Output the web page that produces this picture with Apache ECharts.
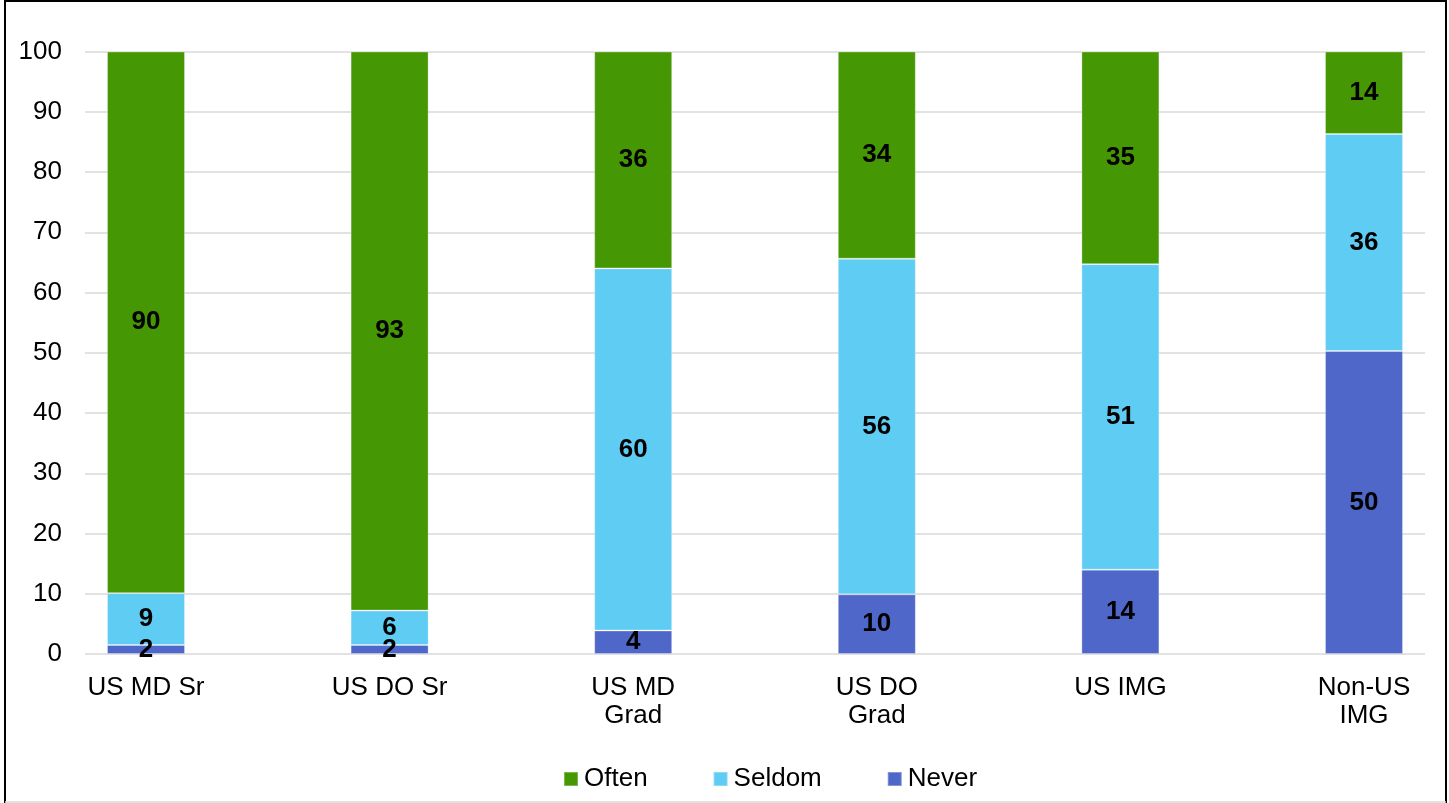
<!DOCTYPE html>
<html>
<head>
<meta charset="utf-8">
<script src="https://cdn.jsdelivr.net/npm/echarts@6/dist/echarts.min.js"></script>
<style>
html,body{margin:0;padding:0;background:#fff;}
#main{width:1449px;height:803px;}
</style>
</head>
<body>
<div id="main"></div>
<script>
const categories = ['US MD Sr', 'US DO Sr', 'US MD\nGrad', 'US DO\nGrad', 'US IMG', 'Non-US\nIMG'];
const never = [1.5, 1.5, 3.9, 9.9, 14.0, 50.3];
const seldom = [8.6, 5.7, 60.1, 55.7, 50.7, 36.0];
const often = [89.9, 92.8, 36.0, 34.4, 35.3, 13.7];
const yTicks = [0, 10, 20, 30, 40, 50, 60, 70, 80, 90, 100];

const FONT = 'Liberation Sans, Arial, sans-serif';
const chart = echarts.init(document.getElementById('main'), null, {renderer: 'canvas'});

const labelCfg = {
  show: true,
  position: 'inside',
  color: '#000',
  fontFamily: FONT,
  fontWeight: 'bold',
  fontSize: 26,
  formatter: p => Math.round(p.value)
};

function mkSeries(name, data, color) {
  return {
    name: name,
    type: 'bar',
    stack: 'total',
    xAxisIndex: 1,
    yAxisIndex: 1,
    barWidth: 78,
    data: data,
    itemStyle: {color: color, borderColor: 'rgba(255,255,255,0.3)', borderWidth: 1},
    label: labelCfg
  };
}

chart.setOption({
  animation: false,
  backgroundColor: '#fff',
  textStyle: {fontFamily: FONT},
  grid: [
    {left: 85, right: 24, top: 51.5, bottom: 149},
    {left: 146, right: 85, top: 51.5, bottom: 149}
  ],
  xAxis: [
    {gridIndex: 0, type: 'category', data: categories, show: false},
    {
      gridIndex: 1, type: 'category', data: categories, boundaryGap: false,
      axisLine: {show: false}, axisTick: {show: false},
      axisLabel: {color: '#000', fontSize: 26, fontFamily: FONT, margin: 20, lineHeight: 28, interval: 0}
    }
  ],
  yAxis: [
    {
      gridIndex: 0, type: 'value', min: 0, max: 100, interval: 10,
      axisLine: {show: false}, axisTick: {show: false},
      axisLabel: {color: '#000', fontSize: 26, fontFamily: FONT, margin: 23,
        formatter: v => yTicks.includes(v) ? String(v) : ''},
      splitLine: {lineStyle: {color: '#d9d9d9', width: 1.5}}
    },
    {gridIndex: 1, type: 'value', min: 0, max: 100, interval: 10, show: false, splitLine: {show: false}}
  ],
  legend: {
    data: ['Often', 'Seldom', 'Never'],
    left: 563, top: 766,
    padding: 0,
    itemWidth: 14, itemHeight: 14, itemGap: 65,
    icon: 'rect',
    textStyle: {color: '#000', fontSize: 26, fontFamily: FONT, padding: [0, 0, 0, 1]}
  },
  series: [
    mkSeries('Never', never, '#4F67C8'),
    mkSeries('Seldom', seldom, '#5FCCF3'),
    mkSeries('Often', often, '#459804')
  ],
  graphic: [
    {type: 'line', shape: {x1: 5, y1: 0, x2: 5, y2: 803}, style: {stroke: '#000', lineWidth: 2}},
    {type: 'line', shape: {x1: 1446, y1: 0, x2: 1446, y2: 803}, style: {stroke: '#000', lineWidth: 2}},
    {type: 'line', shape: {x1: 5, y1: 1, x2: 1446, y2: 1}, style: {stroke: '#000', lineWidth: 2}},
    {type: 'line', shape: {x1: 5, y1: 802, x2: 1446, y2: 802}, style: {stroke: '#d9d9d9', lineWidth: 1.5}}
  ]
});
</script>
</body>
</html>
